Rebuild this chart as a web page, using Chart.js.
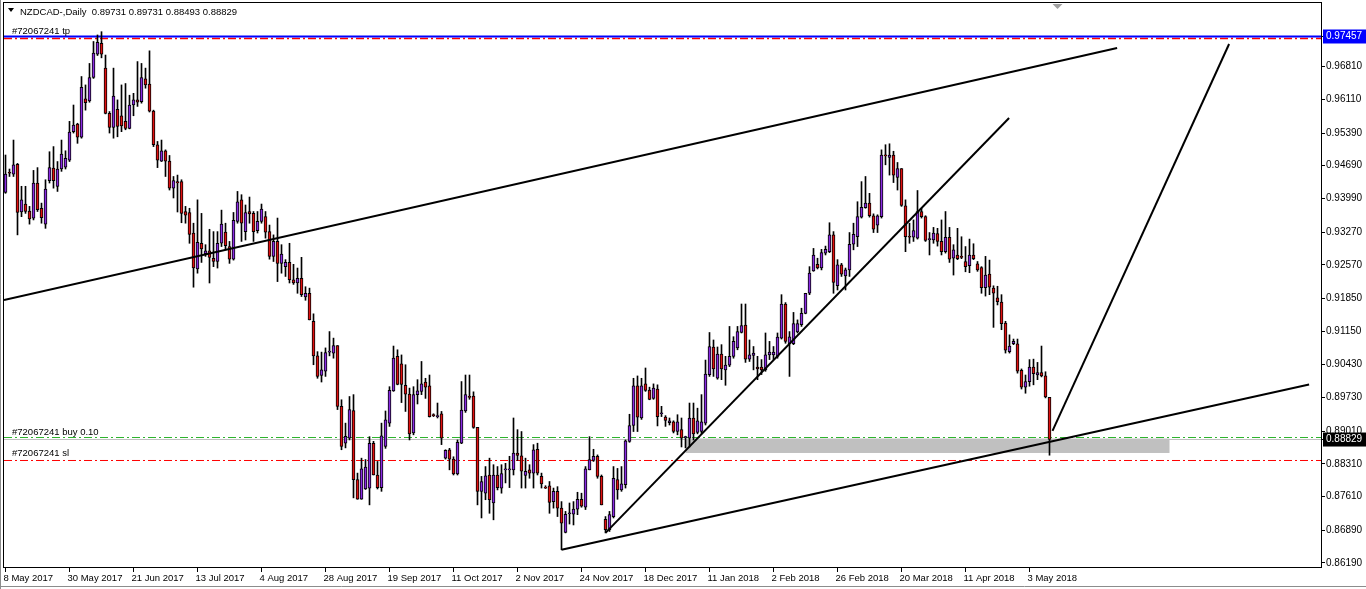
<!DOCTYPE html>
<html>
<head>
<meta charset="utf-8">
<title>NZDCAD-,Daily</title>
<script src="https://cdn.jsdelivr.net/npm/chart.js@4.4.1/dist/chart.umd.min.js"></script>
<style>
  html, body { margin: 0; padding: 0; background: #fff; }
  canvas { display: block; }
</style>
</head>
<body>
<canvas id="chart" width="1366" height="589"></canvas>
<script>
// Daily bars, 8 May 2017 (index 0) to 11 May 2018 (index 261)
const opens = [
  0.9412,0.9455,0.9451,0.9472,0.9370,0.9387,0.9372,0.9357,0.9432,0.9378,
  0.9344,0.9437,0.9464,0.9425,0.9462,0.9466,0.9481,0.9542,0.9558,0.9530,
  0.9612,0.9608,0.9658,0.9708,0.9731,0.9678,0.9581,0.9551,0.9590,0.9576,
  0.9564,0.9549,0.9599,0.9610,0.9606,0.9655,0.9644,0.9586,0.9514,0.9479,
  0.9501,0.9479,0.9421,0.9435,0.9435,0.9371,0.9369,0.9325,0.9248,0.9303,
  0.9281,0.9287,0.9271,0.9264,0.9303,0.9327,0.9296,0.9269,0.9350,0.9396,
  0.9328,0.9371,0.9367,0.9330,0.9350,0.9360,0.9328,0.9275,0.9307,0.9260,
  0.9253,0.9262,0.9225,0.9218,0.9228,0.9188,0.9196,0.9136,0.9062,0.9020,
  0.9029,0.9070,0.9068,0.9084,0.8954,0.8875,0.8886,0.8945,0.8797,0.8755,
  0.8777,0.8779,0.8875,0.8807,0.8780,0.8868,0.8918,0.8987,0.9061,0.9045,
  0.8999,0.8980,0.8897,0.8979,0.8986,0.9006,0.8998,0.8935,0.8932,0.8938,
  0.8843,0.8861,0.8841,0.8809,0.8875,0.8944,0.8974,0.8976,0.8909,0.8772,
  0.8768,0.8807,0.8747,0.8807,0.8779,0.8818,0.8818,0.8818,0.8854,0.8848,
  0.8806,0.8818,0.8811,0.8862,0.8804,0.8781,0.8784,0.8750,0.8772,0.8736,
  0.8684,0.8724,0.8723,0.8734,0.8755,0.8738,0.8818,0.8838,0.8847,0.8804,
  0.8712,0.8690,0.8718,0.8797,0.8775,0.8786,0.8879,0.8913,0.8998,0.8929,
  0.9002,0.8989,0.8971,0.8991,0.8938,0.8931,0.8919,0.8921,0.8900,0.8904,
  0.8887,0.8886,0.8929,0.8898,0.8900,0.8918,0.9022,0.9081,0.9014,0.9066,
  0.9032,0.9042,0.9061,0.9079,0.9112,0.9128,0.9055,0.9063,0.9038,0.9038,
  0.9032,0.9064,0.9064,0.9061,0.9100,0.9173,0.9088,0.9088,0.9113,0.9129,
  0.9153,0.9196,0.9244,0.9258,0.9250,0.9282,0.9285,0.9321,0.9212,0.9257,
  0.9233,0.9246,0.9301,0.9317,0.9359,0.9379,0.9389,0.9362,0.9342,0.9360,
  0.9491,0.9487,0.9492,0.9444,0.9463,0.9383,0.9317,0.9316,0.9314,0.9371,
  0.9360,0.9311,0.9310,0.9324,0.9307,0.9285,0.9316,0.9271,0.9278,0.9274,
  0.9264,0.9255,0.9278,0.9259,0.9251,0.9208,0.9237,0.9207,0.9186,0.9177,
  0.9132,0.9071,0.9088,0.9088,0.9031,0.8995,0.9007,0.9038,0.9021,0.9026,
  0.9019,0.89731
];
const highs = [
  0.9492,0.9462,0.9524,0.9474,0.9425,0.9425,0.9382,0.9459,0.9465,0.9389,
  0.9439,0.9499,0.9510,0.9478,0.9524,0.9501,0.9564,0.9599,0.9560,0.9660,
  0.9642,0.9688,0.9735,0.9749,0.9756,0.9706,0.9585,0.9678,0.9610,0.9642,
  0.9645,0.9620,0.9624,0.9692,0.9688,0.9678,0.9715,0.9588,0.9521,0.9524,
  0.9503,0.9491,0.9446,0.9449,0.9439,0.9382,0.9378,0.9346,0.9396,0.9367,
  0.9300,0.9333,0.9328,0.9328,0.9374,0.9346,0.9307,0.9369,0.9414,0.9407,
  0.9385,0.9402,0.9371,0.9371,0.9387,0.9371,0.9342,0.9321,0.9357,0.9300,
  0.9268,0.9303,0.9258,0.9250,0.9273,0.9210,0.9207,0.9152,0.9071,0.9070,
  0.9079,0.9114,0.9100,0.9084,0.8968,0.8918,0.8975,0.8979,0.8811,0.8843,
  0.8840,0.8889,0.8879,0.8836,0.8918,0.8944,0.8996,0.9083,0.9075,0.9064,
  0.9043,0.8993,0.8996,0.9011,0.9050,0.9014,0.9021,0.8938,0.8961,0.8943,
  0.8861,0.8864,0.8846,0.8882,0.9007,0.9021,0.9021,0.8985,0.8909,0.8804,
  0.8825,0.8843,0.8829,0.8825,0.8829,0.8832,0.8847,0.8929,0.8904,0.8900,
  0.8843,0.8829,0.8872,0.8875,0.8811,0.8784,0.8793,0.8779,0.8782,0.8750,
  0.8729,0.8747,0.8750,0.8770,0.8768,0.8825,0.8889,0.8862,0.8850,0.8807,
  0.8718,0.8729,0.8825,0.8821,0.8825,0.8882,0.8937,0.9014,0.9019,0.9014,
  0.9036,0.8995,0.9002,0.9000,0.8954,0.8934,0.8929,0.8923,0.8936,0.8929,
  0.8890,0.8961,0.8961,0.8950,0.8979,0.9053,0.9112,0.9096,0.9081,0.9086,
  0.9061,0.9125,0.9103,0.9125,0.9173,0.9173,0.9096,0.9082,0.9061,0.9054,
  0.9111,0.9093,0.9082,0.9111,0.9193,0.9176,0.9114,0.9155,0.9139,0.9164,
  0.9196,0.9253,0.9292,0.9271,0.9290,0.9297,0.9347,0.9328,0.9268,0.9260,
  0.9250,0.9326,0.9346,0.9392,0.9435,0.9446,0.9410,0.9366,0.9364,0.9503,
  0.9514,0.9516,0.9500,0.9476,0.9463,0.9396,0.9346,0.9353,0.9416,0.9378,
  0.9362,0.9326,0.9337,0.9335,0.9353,0.9371,0.9337,0.9300,0.9335,0.9317,
  0.9296,0.9312,0.9302,0.9264,0.9253,0.9275,0.9267,0.9212,0.9211,0.9193,
  0.9136,0.9107,0.9098,0.9098,0.9034,0.9021,0.9054,0.9055,0.9048,0.9083,
  0.9028,0.89731
];
const lows = [
  0.9410,0.9446,0.9446,0.9321,0.9360,0.9367,0.9344,0.9353,0.9371,0.9346,
  0.9335,0.9432,0.9421,0.9414,0.9457,0.9462,0.9478,0.9539,0.9517,0.9528,
  0.9588,0.9605,0.9656,0.9705,0.9700,0.9580,0.9539,0.9528,0.9531,0.9542,
  0.9546,0.9548,0.9576,0.9596,0.9603,0.9635,0.9584,0.9510,0.9465,0.9478,
  0.9446,0.9417,0.9400,0.9370,0.9347,0.9346,0.9303,0.9209,0.9239,0.9262,
  0.9275,0.9218,0.9253,0.9250,0.9296,0.9289,0.9260,0.9267,0.9346,0.9307,
  0.9310,0.9346,0.9307,0.9325,0.9346,0.9314,0.9269,0.9264,0.9221,0.9239,
  0.9232,0.9218,0.9215,0.9196,0.9189,0.9181,0.9139,0.9043,0.9014,0.9006,
  0.9018,0.9062,0.9057,0.8947,0.8861,0.8865,0.8882,0.8758,0.8755,0.8755,
  0.8776,0.8743,0.8807,0.8777,0.8772,0.8864,0.8911,0.8986,0.9000,0.8962,
  0.8943,0.8882,0.8893,0.8959,0.8979,0.8971,0.8931,0.8932,0.8929,0.8872,
  0.8841,0.8818,0.8807,0.8807,0.8874,0.8941,0.8969,0.8907,0.8743,0.8715,
  0.8754,0.8725,0.8711,0.8775,0.8768,0.8790,0.8780,0.8807,0.8838,0.8779,
  0.8779,0.8800,0.8779,0.8807,0.8779,0.8778,0.8725,0.8736,0.8718,0.8647,
  0.8683,0.8702,0.8700,0.8722,0.8738,0.8733,0.8818,0.8836,0.8800,0.8743,
  0.8683,0.8686,0.8715,0.8755,0.8772,0.8779,0.8877,0.8900,0.8900,0.8926,
  0.8986,0.8968,0.8969,0.8912,0.8932,0.8911,0.8914,0.8897,0.8893,0.8867,
  0.8865,0.8867,0.8882,0.8895,0.8896,0.8914,0.9018,0.9018,0.9012,0.9011,
  0.8999,0.9039,0.9057,0.9075,0.9111,0.9048,0.9050,0.9032,0.9011,0.9022,
  0.9029,0.9054,0.9054,0.9057,0.9098,0.9089,0.9018,0.9086,0.9111,0.9125,
  0.9152,0.9193,0.9243,0.9248,0.9246,0.9278,0.9283,0.9196,0.9203,0.9232,
  0.9203,0.9232,0.9289,0.9296,0.9357,0.9378,0.9359,0.9326,0.9326,0.9357,
  0.9471,0.9449,0.9433,0.9417,0.9382,0.9285,0.9303,0.9307,0.9312,0.9357,
  0.9307,0.9278,0.9303,0.9297,0.9278,0.9282,0.9262,0.9235,0.9268,0.9270,
  0.9242,0.9240,0.9268,0.9243,0.9196,0.9190,0.9193,0.9123,0.9171,0.9118,
  0.9068,0.9068,0.9086,0.9025,0.8991,0.8982,0.8997,0.9000,0.9011,0.9017,
  0.8972,0.88493
];
const closes = [
  0.9451,0.9453,0.9471,0.9369,0.9396,0.9371,0.9355,0.9432,0.9375,0.9358,
  0.9419,0.9465,0.9437,0.9462,0.9494,0.9485,0.9541,0.9556,0.9530,0.9637,
  0.9604,0.9658,0.9710,0.9733,0.9708,0.9581,0.9551,0.9618,0.9553,0.9554,
  0.9549,0.9599,0.9610,0.9605,0.9658,0.9642,0.9586,0.9514,0.9481,0.9501,
  0.9479,0.9421,0.9437,0.9432,0.9367,0.9363,0.9322,0.9250,0.9305,0.9291,
  0.9287,0.9273,0.9264,0.9303,0.9344,0.9298,0.9269,0.9352,0.9392,0.9346,
  0.9369,0.9366,0.9328,0.9350,0.9376,0.9327,0.9275,0.9307,0.9260,0.9280,
  0.9262,0.9225,0.9218,0.9228,0.9193,0.9196,0.9139,0.9062,0.9018,0.9032,
  0.9069,0.9070,0.9084,0.8954,0.8868,0.8890,0.8947,0.8797,0.8755,0.8820,
  0.8824,0.8875,0.8807,0.8780,0.8891,0.8925,0.8988,0.9057,0.9001,0.9001,
  0.8980,0.8895,0.8979,0.8987,0.9002,0.8995,0.8932,0.8934,0.8933,0.8886,
  0.8860,0.8841,0.8809,0.8877,0.8946,0.8979,0.8973,0.8909,0.8772,0.8793,
  0.8805,0.8754,0.8807,0.8780,0.8810,0.8818,0.8819,0.8854,0.8849,0.8815,
  0.8815,0.8811,0.8861,0.8811,0.8788,0.8779,0.8748,0.8772,0.8736,0.8704,
  0.8723,0.8724,0.8734,0.8755,0.8740,0.8820,0.8840,0.8847,0.8804,0.8743,
  0.8690,0.8722,0.8800,0.8775,0.8788,0.8880,0.8913,0.8998,0.8931,0.8998,
  0.8988,0.8969,0.8993,0.8932,0.8938,0.8924,0.8923,0.8900,0.8921,0.8886,
  0.8887,0.8929,0.8895,0.8923,0.8921,0.9023,0.9082,0.9034,0.9066,0.9034,
  0.9042,0.9061,0.9093,0.9114,0.9127,0.9055,0.9064,0.9068,0.9034,0.9032,
  0.9064,0.9070,0.9070,0.9102,0.9173,0.9093,0.9103,0.9131,0.9131,0.9153,
  0.9196,0.9239,0.9278,0.9250,0.9283,0.9290,0.9321,0.9219,0.9257,0.9237,
  0.9246,0.9301,0.9322,0.9360,0.9380,0.9389,0.9362,0.9333,0.9362,0.9492,
  0.9490,0.9492,0.9449,0.9463,0.9384,0.9317,0.9316,0.9330,0.9371,0.9360,
  0.9309,0.9312,0.9325,0.9307,0.9285,0.9316,0.9269,0.9289,0.9270,0.9273,
  0.9253,0.9278,0.9270,0.9246,0.9208,0.9235,0.9209,0.9196,0.9178,0.9131,
  0.9074,0.9083,0.9093,0.9029,0.8995,0.9007,0.9038,0.9024,0.9026,0.9019,
  0.8974,0.88829
];

// bottom axis labels, one every 16 bars
const dateTickIdx = [0, 16, 32, 48, 64, 80, 96, 112, 128, 144, 160, 176, 192, 208, 224, 240, 256];
const dateLabels = ['8 May 2017', '30 May 2017', '21 Jun 2017', '13 Jul 2017', '4 Aug 2017', '28 Aug 2017',
  '19 Sep 2017', '11 Oct 2017', '2 Nov 2017', '24 Nov 2017', '18 Dec 2017', '11 Jan 2018', '2 Feb 2018',
  '26 Feb 2018', '20 Mar 2018', '11 Apr 2018', '3 May 2018'];

// right axis price labels (the last two are the boxed ones)
const priceTicks = [0.96810, 0.96110, 0.95390, 0.94690, 0.93990, 0.93270, 0.92570, 0.91850, 0.91150,
  0.90430, 0.89730, 0.89010, 0.88310, 0.87610, 0.86890, 0.86190, 0.97457, 0.88829];
const tpLevel = 0.97457;
const bidLevel = 0.88829;

// order lines
const tpOrder = 0.97414;
const buyOrder = 0.88872;
const slOrder = 0.88380;

// drawn objects: trend lines [x1, y1, x2, y2] in bar index / price
const channelTop = [-0.375, 0.91816, 277.9, 0.97211];
const channelBottom = [139, 0.86470, 325.9, 0.90005];
const riseLine = [150, 0.86830, 250.9, 0.95712];
const targetLine = [261.75, 0.89014, 305.9, 0.97296];
// grey zone [x1, x2, top, bottom]
const zone = [170, 291, 0.88850, 0.88541];

const xMin = -0.375, xMax = 328.875;
const yMin = 0.86100, yMax = 0.98174;

const UP = '#8a2be2';
const DOWN = '#e01010';
const FONT = '"Liberation Sans", Arial, sans-serif';

Chart.defaults.font.family = FONT;
Chart.defaults.font.size = 10;
Chart.defaults.color = '#000';

const bodies = opens.map((o, i) => ({x: i, y: [o, closes[i]]}));
const wicks = lows.map((l, i) => ({x: i, y: [l, highs[i]]}));

function segment(s) {
  return [{x: s[0], y: s[1]}, {x: s[2], y: s[3]}];
}
function level(v) {
  return [{x: xMin, y: v}, {x: xMax, y: v}];
}
const DASHDOT = [8, 3, 2, 3];

function isBoxed(c) {
  return !!(c.tick && (c.tick.value === tpLevel || c.tick.value === bidLevel));
}

// grey zone, frame and the MT4 text overlays
const overlay = {
  id: 'overlay',
  beforeDatasetsDraw(chart) {
    const {ctx, scales: {x, y}} = chart;
    ctx.save();
    ctx.fillStyle = '#c0c0c0';
    const x1 = x.getPixelForValue(zone[0]), x2 = x.getPixelForValue(zone[1]);
    const y1 = y.getPixelForValue(zone[2]), y2 = y.getPixelForValue(zone[3]);
    ctx.fillRect(x1, y1, x2 - x1, y2 - y1);
    ctx.restore();
  },
  afterDraw(chart) {
    const {ctx, chartArea: a, scales: {x, y}} = chart;
    ctx.save();
    ctx.strokeStyle = '#000';
    ctx.lineWidth = 1;
    ctx.strokeRect(a.left - 0.5, a.top - 0.5, a.right - a.left + 1, a.bottom - a.top + 1);

    // window frame bits
    ctx.strokeStyle = '#8c8c8c';
    ctx.beginPath();
    ctx.moveTo(0.5, 0); ctx.lineTo(0.5, 589);
    ctx.moveTo(0, 586.5); ctx.lineTo(1366, 586.5);
    ctx.stroke();

    ctx.fillStyle = '#000';
    ctx.font = '9.5px ' + FONT;
    ctx.textBaseline = 'alphabetic';
    ctx.fillText('NZDCAD-,Daily  0.89731 0.89731 0.88493 0.88829', 20, 15);
    ctx.beginPath();
    ctx.moveTo(8, 8); ctx.lineTo(14, 8); ctx.lineTo(11, 12); ctx.closePath();
    ctx.fill();

    ctx.fillText('#72067241 tp', a.left + 8, y.getPixelForValue(tpLevel) - 2);
    ctx.fillText('#72067241 buy 0.10', a.left + 8, y.getPixelForValue(buyOrder) - 3);
    ctx.fillText('#72067241 sl', a.left + 8, y.getPixelForValue(slOrder) - 4);

    // chart shift marker
    const sx = x.getPixelForValue(263);
    ctx.fillStyle = '#a0a0a0';
    ctx.beginPath();
    ctx.moveTo(sx - 5, a.top + 1); ctx.lineTo(sx + 5, a.top + 1); ctx.lineTo(sx, a.top + 6); ctx.closePath();
    ctx.fill();
    ctx.restore();
  }
};

new Chart(document.getElementById('chart'), {
  type: 'bar',
  data: {
    datasets: [
      {type: 'line', data: segment(channelTop), borderColor: '#000', borderWidth: 2, pointRadius: 0, order: 1},
      {type: 'line', data: segment(channelBottom), borderColor: '#000', borderWidth: 2, pointRadius: 0, order: 1},
      {type: 'line', data: segment(riseLine), borderColor: '#000', borderWidth: 2, pointRadius: 0, order: 1},
      {type: 'line', data: segment(targetLine), borderColor: '#000', borderWidth: 2, pointRadius: 0, order: 1},
      {
        data: bodies, order: 3, grouped: false, barThickness: 3, minBarLength: 1,
        backgroundColor: ctx => closes[ctx.dataIndex] >= opens[ctx.dataIndex] ? UP : DOWN,
        borderColor: '#000', borderWidth: 1, borderSkipped: false
      },
      {data: wicks, order: 4, grouped: false, barThickness: 1, backgroundColor: '#000', borderWidth: 0},
      {type: 'line', data: level(tpLevel), borderColor: '#0000ff', borderWidth: 2, pointRadius: 0, order: 5},
      {type: 'line', data: level(tpOrder), borderColor: '#ff0000', borderWidth: 1.5, borderDash: DASHDOT, pointRadius: 0, order: 6},
      {type: 'line', data: level(buyOrder), borderColor: '#2db42d', borderWidth: 1, borderDash: DASHDOT, pointRadius: 0, order: 6},
      {type: 'line', data: level(bidLevel), borderColor: '#c0c0c0', borderWidth: 1, pointRadius: 0, order: 6},
      {type: 'line', data: level(slOrder), borderColor: '#ff0000', borderWidth: 1, borderDash: DASHDOT, pointRadius: 0, order: 6}
    ]
  },
  options: {
    responsive: false,
    animation: false,
    events: [],
    layout: {autoPadding: false, padding: {left: 4, top: 3, right: 0, bottom: 0}},
    plugins: {legend: {display: false}, tooltip: {enabled: false}},
    scales: {
      x: {
        type: 'linear', min: xMin, max: xMax, bounds: 'data', offset: false, position: 'bottom',
        afterFit: s => { s.height = 22; s.paddingLeft = 0; s.paddingRight = 0; },
        afterBuildTicks: s => { s.ticks = dateTickIdx.map(v => ({value: v})); },
        grid: {drawOnChartArea: false, drawTicks: true, tickLength: 5, color: '#000', offset: false},
        border: {display: false},
        ticks: {
          autoSkip: false, maxRotation: 0, align: 'start', labelOffset: -2, padding: 1,
          font: {size: 9.5},
          callback: v => dateLabels[dateTickIdx.indexOf(v)]
        }
      },
      y: {
        type: 'linear', position: 'right', min: yMin, max: yMax, bounds: 'data',
        afterFit: s => { s.width = 45; s.paddingTop = 0; s.paddingBottom = 0; },
        afterBuildTicks: s => { s.ticks = priceTicks.map(v => ({value: v})); },
        grid: {drawOnChartArea: false, drawTicks: true, tickLength: 4, color: '#000'},
        border: {display: false},
        ticks: {
          autoSkip: false, padding: 1, crossAlign: 'near',
          color: c => isBoxed(c) ? '#fff' : '#000',
          showLabelBackdrop: c => isBoxed(c),
          backdropColor: c => (c.tick && c.tick.value === tpLevel) ? '#0000ff' : '#000',
          backdropPadding: {left: 3, right: 6, top: 1, bottom: 1},
          callback: v => v.toFixed(5)
        }
      }
    }
  },
  plugins: [overlay]
});
</script>
</body>
</html>
